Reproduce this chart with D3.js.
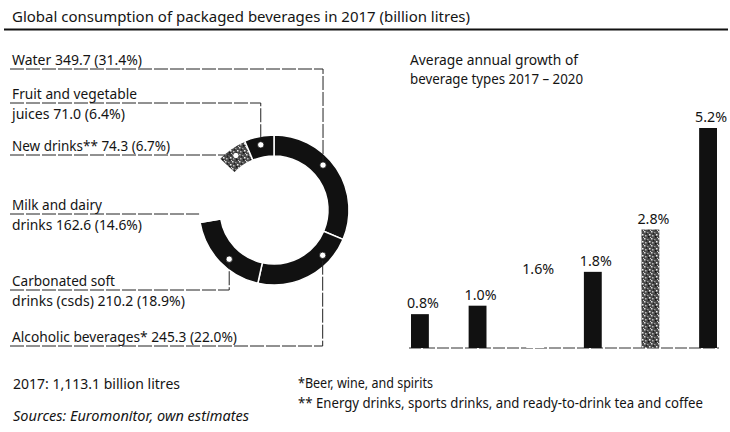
<!DOCTYPE html>
<html>
<head>
<meta charset="utf-8">
<script src="https://cdn.jsdelivr.net/npm/d3@7"></script>
<style>
  body { margin: 0; background: #fff; }
  svg text { font-family: "Noto Sans", "Open Sans", sans-serif; fill: #141414; font-size: 14px; }
</style>
</head>
<body>
<svg width="730" height="432"></svg>
<script>
// donut: share of 2017 consumption, clockwise from 12 o'clock
const segNames = [["Water"], ["Alcoholic beverages*"], ["Carbonated soft", "drinks (csds)"],
  ["Milk and dairy", "drinks"], ["New drinks**"], ["Fruit and vegetable", "juices"]];
const segVolumes = [349.7, 245.3, 210.2, 162.6, 74.3, 71.0];
const segShares = [31.4, 22.0, 18.9, 14.6, 6.7, 6.4];

// bars: average annual growth 2017-2020
const growthCats = ["Carbonated soft drinks", "Alcoholic beverages", "Milk and dairy drinks",
  "Fruit and vegetable juices", "New drinks", "Water"];
const growthValues = [0.8, 1.0, 1.6, 1.8, 2.8, 5.2];

const svg = d3.select('svg');
const defs = svg.append('defs');

// the print font is narrower than Noto Sans, so squeeze text to the measured width
function addText(x, y, str, w) {
  const t = svg.append('text').attr('x', x).attr('y', y).text(str);
  if (w) t.attr('textLength', w).attr('lengthAdjust', 'spacingAndGlyphs');
  return t;
}

// grainy texture used for "new drinks"
const pat = defs.append('pattern').attr('id', 'grain')
  .attr('width', 7).attr('height', 7).attr('patternUnits', 'userSpaceOnUse');
pat.append('rect').attr('width', 7).attr('height', 7).attr('fill', '#4a4a4a');
[[0, 0, '#ddd'], [3, 1, '#999'], [5, 3, '#eee'], [1, 4, '#bbb'], [4, 5, '#111'], [2, 2, '#222'], [6, 6, '#ccc']]
  .forEach(p => pat.append('rect').attr('x', p[0]).attr('y', p[1])
    .attr('width', 1.5).attr('height', 1.5).attr('fill', p[2]));

// title and rule
addText(12, 21.5, 'Global consumption of packaged beverages in 2017 (billion litres)', 458);
svg.append('line').attr('x1', 4).attr('x2', 728).attr('y1', 29.5).attr('y2', 29.5)
  .attr('stroke', '#111').attr('stroke-width', 2);

// ---- donut ----
const cx = 274, cy = 210, rOuter = 75, rInner = 54;
const pie = d3.pie().sort(null).value(d => d)(segVolumes);
const arc = d3.arc().innerRadius(rInner).outerRadius(rOuter);
const segFill = ['#111', '#111', '#111', 'none', 'url(#grain)', '#111'];
// label baselines, label widths per line, and how far along its slice the leader dot is
const labelY = [65, 342, 286, 210, 151, 99];
const labelW = [[130], [225], [103, 173], [90, 130], [158], [125, 113]];
const dotFrac = [0.42, 0.25, 0.44, null, 0.5, 0.5];

const donut = svg.append('g').attr('transform', `translate(${cx},${cy})`);
donut.selectAll('path').data(pie).enter().append('path')
  .attr('d', arc)
  .attr('fill', (d, i) => segFill[i])
  .attr('stroke', '#fff').attr('stroke-width', 1.5);

const leaders = svg.append('g');
pie.forEach((d, i) => {
  const ly = labelY[i] + 4;
  let dx, dy;
  if (dotFrac[i] === null) {
    // gap slice: line stops at the ring edge
    dx = cx - Math.sqrt(rOuter * rOuter - (ly - cy) * (ly - cy));
    dy = ly;
  } else {
    const a = d.startAngle + dotFrac[i] * (d.endAngle - d.startAngle);
    const rm = (rOuter + rInner) / 2 + 2;
    dx = cx + rm * Math.sin(a);
    dy = cy - rm * Math.cos(a);
  }
  leaders.append('path')
    .attr('d', `M10,${ly}H${dx}V${dy}`)
    .attr('fill', 'none').attr('stroke', '#222').attr('stroke-width', 1)
    .attr('stroke-dasharray', '14,2');
  if (dotFrac[i] !== null) {
    leaders.append('circle').attr('cx', dx).attr('cy', dy).attr('r', 3.2)
      .attr('fill', '#fff').attr('stroke', '#111').attr('stroke-width', 0.8);
  }
  // label text, value goes after the last line
  const lines = segNames[i].slice();
  lines[lines.length - 1] += ` ${segVolumes[i].toFixed(1)} (${segShares[i].toFixed(1)}%)`;
  lines.forEach((t, k) => addText(12, labelY[i] + k * 19.5, t, labelW[i][k]));
});

// ---- bars ----
addText(410, 65, 'Average annual growth of', 168);
addText(410, 84, 'beverage types 2017 \u2013 2020', 173);

const xScale = d3.scaleBand().domain(growthCats).range([411, 717]).paddingInner(0.69);
const yScale = d3.scaleLinear().domain([0, 5.2]).range([348, 128]);
const barFill = ['#111', '#111', '#fff', '#111', 'url(#grain)', '#111'];

svg.append('line').attr('x1', 409).attr('x2', 719).attr('y1', yScale(0)).attr('y2', yScale(0))
  .attr('stroke', '#333').attr('stroke-width', 1).attr('stroke-dasharray', '12,2');

const bars = svg.selectAll('.bar').data(growthValues).enter().append('g').attr('class', 'bar');
bars.append('rect')
  .attr('x', (d, i) => xScale(growthCats[i]))
  .attr('y', d => yScale(d))
  .attr('width', xScale.bandwidth())
  .attr('height', d => yScale(0) - yScale(d))
  .attr('fill', (d, i) => barFill[i]);
bars.append('text')
  .attr('x', (d, i) => xScale(growthCats[i]) + xScale.bandwidth() / 2 + 3)
  .attr('y', d => yScale(d) - 6)
  .attr('text-anchor', 'middle')
  .attr('textLength', 32).attr('lengthAdjust', 'spacingAndGlyphs')
  .text(d => d.toFixed(1) + '%');

// ---- footer ----
addText(13, 389, '2017: 1,113.1 billion litres', 167);
addText(298, 388, '*Beer, wine, and spirits', 135);
addText(298, 408, '** Energy drinks, sports drinks, and ready-to-drink tea and coffee', 405);
addText(13, 421, 'Sources: Euromonitor, own estimates', 236).style('font-style', 'italic');
</script>
</body>
</html>
